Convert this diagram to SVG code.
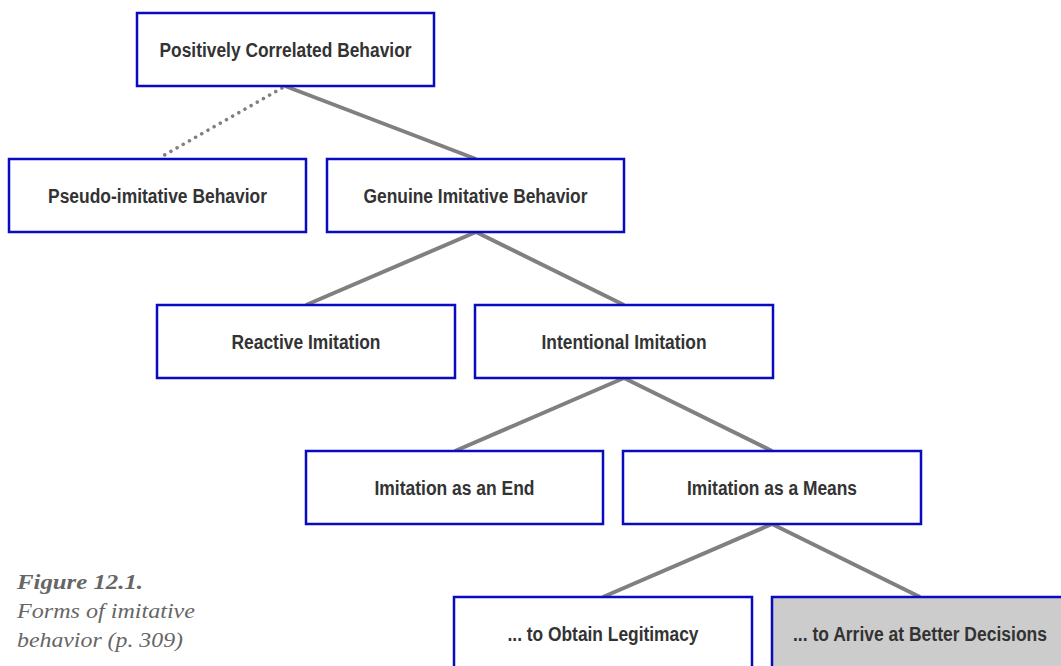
<svg xmlns="http://www.w3.org/2000/svg" width="1061" height="666" viewBox="0 0 1061 666">
<style>
.box{fill:#ffffff;stroke:#0a0ac0;stroke-width:2.5}
.grey{fill:#cccccc}
.lbl{font-family:"Liberation Sans",Arial,sans-serif;font-weight:bold;font-size:20px;fill:#333333;text-anchor:middle}
.edge{stroke:#808080;stroke-width:4;fill:none}
.dot{stroke:#808080;stroke-width:3.5;fill:none;stroke-linecap:round;stroke-dasharray:0.1 7}
.cap{font-family:"Liberation Serif","Times New Roman",serif;font-style:italic;font-size:22px;fill:#666666}
</style>
<rect width="1061" height="666" fill="#ffffff"/>
<g id="connectors">
<line class="dot" x1="282" y1="88" x2="161" y2="157"/>
<line class="edge" x1="285" y1="86" x2="476" y2="159"/>
<line class="edge" x1="476" y1="232" x2="306" y2="305"/>
<line class="edge" x1="476" y1="232" x2="624" y2="305"/>
<line class="edge" x1="624" y1="378" x2="455" y2="451"/>
<line class="edge" x1="624" y1="378" x2="772" y2="451"/>
<line class="edge" x1="772" y1="524" x2="603" y2="597"/>
<line class="edge" x1="772" y1="524" x2="920" y2="597"/>
</g>
<g id="n1"><rect class="box" x="137" y="13" width="297" height="73"/><text class="lbl" x="285.5" y="56.5" textLength="252" lengthAdjust="spacingAndGlyphs">Positively Correlated Behavior</text></g>
<g id="n2"><rect class="box" x="9" y="159" width="297" height="73"/><text class="lbl" x="157.5" y="202.5" textLength="219" lengthAdjust="spacingAndGlyphs">Pseudo-imitative Behavior</text></g>
<g id="n3"><rect class="box" x="327" y="159" width="297" height="73"/><text class="lbl" x="475.5" y="202.5" textLength="224" lengthAdjust="spacingAndGlyphs">Genuine Imitative Behavior</text></g>
<g id="n4"><rect class="box" x="157" y="305" width="298" height="73"/><text class="lbl" x="306" y="348.5" textLength="149" lengthAdjust="spacingAndGlyphs">Reactive Imitation</text></g>
<g id="n5"><rect class="box" x="475" y="305" width="298" height="73"/><text class="lbl" x="624" y="348.5" textLength="165" lengthAdjust="spacingAndGlyphs">Intentional Imitation</text></g>
<g id="n6"><rect class="box" x="306" y="451" width="297" height="73"/><text class="lbl" x="454.5" y="494.5" textLength="160" lengthAdjust="spacingAndGlyphs">Imitation as an End</text></g>
<g id="n7"><rect class="box" x="623" y="451" width="298" height="73"/><text class="lbl" x="772" y="494.5" textLength="170" lengthAdjust="spacingAndGlyphs">Imitation as a Means</text></g>
<g id="n8"><rect class="box" x="454" y="597" width="298" height="73"/><text class="lbl" x="603" y="640.5" textLength="191" lengthAdjust="spacingAndGlyphs">... to Obtain Legitimacy</text></g>
<g id="n9"><rect class="box grey" x="772" y="597" width="297" height="73"/><text class="lbl" x="920" y="640.5" textLength="254" lengthAdjust="spacingAndGlyphs">... to Arrive at Better Decisions</text></g>
<g id="caption">
<text class="cap" x="17" y="589" font-weight="bold" textLength="126" lengthAdjust="spacingAndGlyphs">Figure 12.1.</text>
<text class="cap" x="17" y="618" textLength="178" lengthAdjust="spacingAndGlyphs">Forms of imitative</text>
<text class="cap" x="17" y="647" textLength="166" lengthAdjust="spacingAndGlyphs">behavior (p. 309)</text>
</g>
</svg>
